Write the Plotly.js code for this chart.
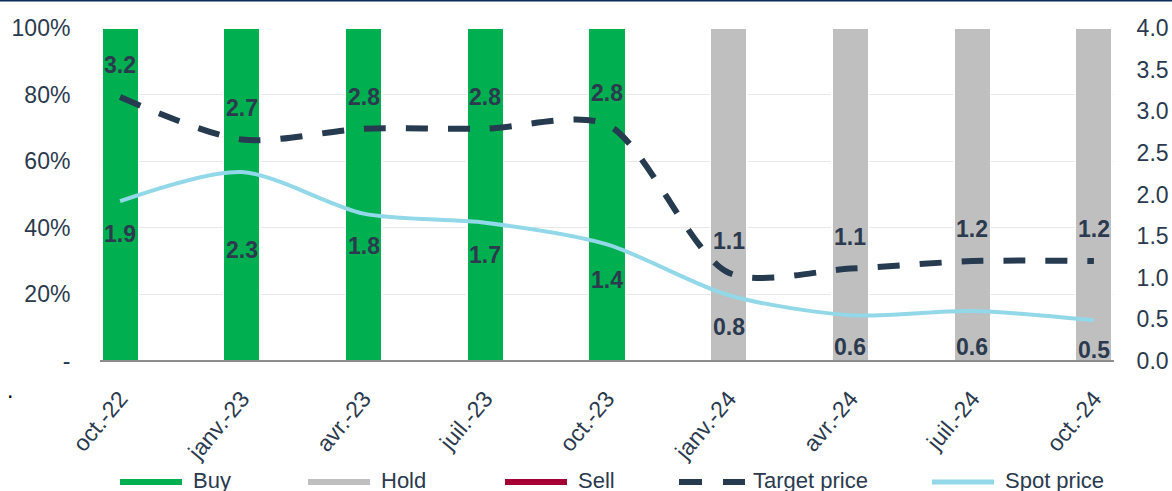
<!DOCTYPE html>
<html>
<head>
<meta charset="utf-8">
<script src="https://cdn.plot.ly/plotly-3.0.1.min.js"></script>
<style>html,body{margin:0;padding:0;background:#fff;}#chart{width:1172px;height:491px;}</style>
</head>
<body>
<div id="chart"></div>
<script>
// ---- data ----
const categories = ['oct.-22','janv.-23','avr.-23','juil.-23','oct.-23','janv.-24','avr.-24','juil.-24','oct.-24'];
const buyShare  = [1,1,1,1,1,0,0,0,0];
const holdShare = [0,0,0,0,0,1,1,1,1];
const sellShare = [0,0,0,0,0,0,0,0,0];
const targetPrice = [3.17,2.66,2.79,2.79,2.84,1.06,1.11,1.2,1.2];
const spotPrice   = [1.92,2.27,1.77,1.66,1.4,0.79,0.55,0.6,0.49];
const leftTickVals  = [0,0.2,0.4,0.6,0.8,1];
const leftTickText  = ['-','20%','40%','60%','80%','100%'];
const legendNames = ['Buy','Hold','Sell','Target price','Spot price'];

// ---- styling ----
const FONT = 'Liberation Sans, Arial, sans-serif';
const TXT = '#2b3a4e';
const FS = 23;
const C_BUY = '#00b050', C_HOLD = '#bfbfbf', C_SELL = '#a50034', C_TGT = '#263a50', C_SPOT = '#92d8e8';
const L = 100, R = 1114, T = 28, B = 361;
const px = x => (x - L) / (R - L);
const py = y => (B - y) / (B - T);

const traces = [
  {type:'bar', x:categories, y:buyShare, name:legendNames[0], marker:{color:C_BUY, line:{color:'#fff', width:1.5}}, width:0.3, hoverinfo:'skip'},
  {type:'bar', x:categories, y:holdShare, name:legendNames[1], marker:{color:C_HOLD, line:{color:'#fff', width:1.5}}, width:0.3, hoverinfo:'skip'},
  {type:'bar', x:categories, y:sellShare, name:legendNames[2], marker:{color:C_SELL}, width:0.3, hoverinfo:'skip'},
  {type:'scatter', mode:'lines', x:categories, y:targetPrice, yaxis:'y2', name:legendNames[3],
   line:{color:C_TGT, width:6, dash:'22px,20px', shape:'spline', smoothing:0.8}},
  {type:'scatter', mode:'lines', x:categories, y:spotPrice, yaxis:'y2', name:legendNames[4],
   line:{color:C_SPOT, width:4, shape:'spline', smoothing:0.8}}
];

const annotations = [];
const spotShift = [-33,-78,-32,-32,-36,-32,-32,-36,-30];
categories.forEach((c,i) => {
  annotations.push({x:c, y:targetPrice[i], xref:'x', yref:'y2', text:targetPrice[i].toFixed(1), showarrow:false,
    yshift:32, font:{family:FONT, size:FS, color:TXT, weight:'bold'}});
  annotations.push({x:c, y:spotPrice[i], xref:'x', yref:'y2', text:spotPrice[i].toFixed(1), showarrow:false,
    yshift:spotShift[i], font:{family:FONT, size:FS, color:TXT, weight:'bold'}});
});

// custom legend
const legendX = [120, 308, 505, 679, 932];
const legendColors = [C_BUY, C_HOLD, C_SELL, C_TGT, C_SPOT];
const legendY = 482;
const shapes = [
  {type:'line', xref:'paper', yref:'paper', x0:px(0), x1:px(1172), y0:py(0.7), y1:py(0.7), line:{color:'#0b2a5e', width:1.5}},
  {type:'line', xref:'paper', yref:'paper', x0:0, x1:1, y0:0, y1:0, line:{color:'#8c8c8c', width:2}}
];
legendNames.forEach((n,i) => {
  const x0 = legendX[i];
  if (i === 3) {
    shapes.push({type:'line', xref:'paper', yref:'paper', x0:px(x0), x1:px(x0+23), y0:py(legendY), y1:py(legendY), line:{color:C_TGT, width:6}});
    shapes.push({type:'line', xref:'paper', yref:'paper', x0:px(x0+44), x1:px(x0+66), y0:py(legendY), y1:py(legendY), line:{color:C_TGT, width:6}});
  } else {
    shapes.push({type:'line', xref:'paper', yref:'paper', x0:px(x0), x1:px(x0+62), y0:py(legendY), y1:py(legendY), line:{color:legendColors[i], width: i===4?5:6}});
  }
  annotations.push({xref:'paper', yref:'paper', x:px(x0 + (i===3?72:71)), y:py(legendY-1), xanchor:'left', yanchor:'middle', text:n, showarrow:false,
    font:{family:FONT, size:22, color:TXT}});
});
annotations.push({xref:'paper', yref:'paper', x:px(10), y:py(390), xanchor:'center', yanchor:'middle', text:'.', showarrow:false,
  font:{family:FONT, size:FS, color:'#000'}});

const layout = {
  width:1172, height:491,
  margin:{l:L, r:1172-R, t:T, b:491-B},
  paper_bgcolor:'#fff', plot_bgcolor:'#fff',
  barmode:'stack', bargap:0.7,
  showlegend:false,
  font:{family:FONT, size:FS, color:TXT},
  xaxis:{type:'category', range:[-0.165, 8.165], tickangle:-50, showgrid:false, zeroline:false, showline:false,
    ticks:'outside', ticklen:14, tickcolor:'rgba(0,0,0,0)', tickfont:{family:FONT, size:FS, color:TXT}, fixedrange:true},
  yaxis:{range:[0,1], tickvals:leftTickVals, ticktext:leftTickText, showgrid:true, gridcolor:'#e8e8e8', gridwidth:1,
    zeroline:false, showline:false, ticks:'outside', ticklen:24, tickcolor:'rgba(0,0,0,0)', tickfont:{family:FONT, size:FS, color:TXT}},
  yaxis2:{range:[0,4], overlaying:'y', side:'right', dtick:0.5, tickformat:'.1f', showgrid:false, zeroline:false, showline:false,
    ticks:'outside', ticklen:17, tickcolor:'rgba(0,0,0,0)', tickfont:{family:FONT, size:FS, color:TXT}},
  shapes:shapes,
  annotations:annotations
};

Plotly.newPlot('chart', traces, layout, {displayModeBar:false, staticPlot:true});
</script>
</body>
</html>
